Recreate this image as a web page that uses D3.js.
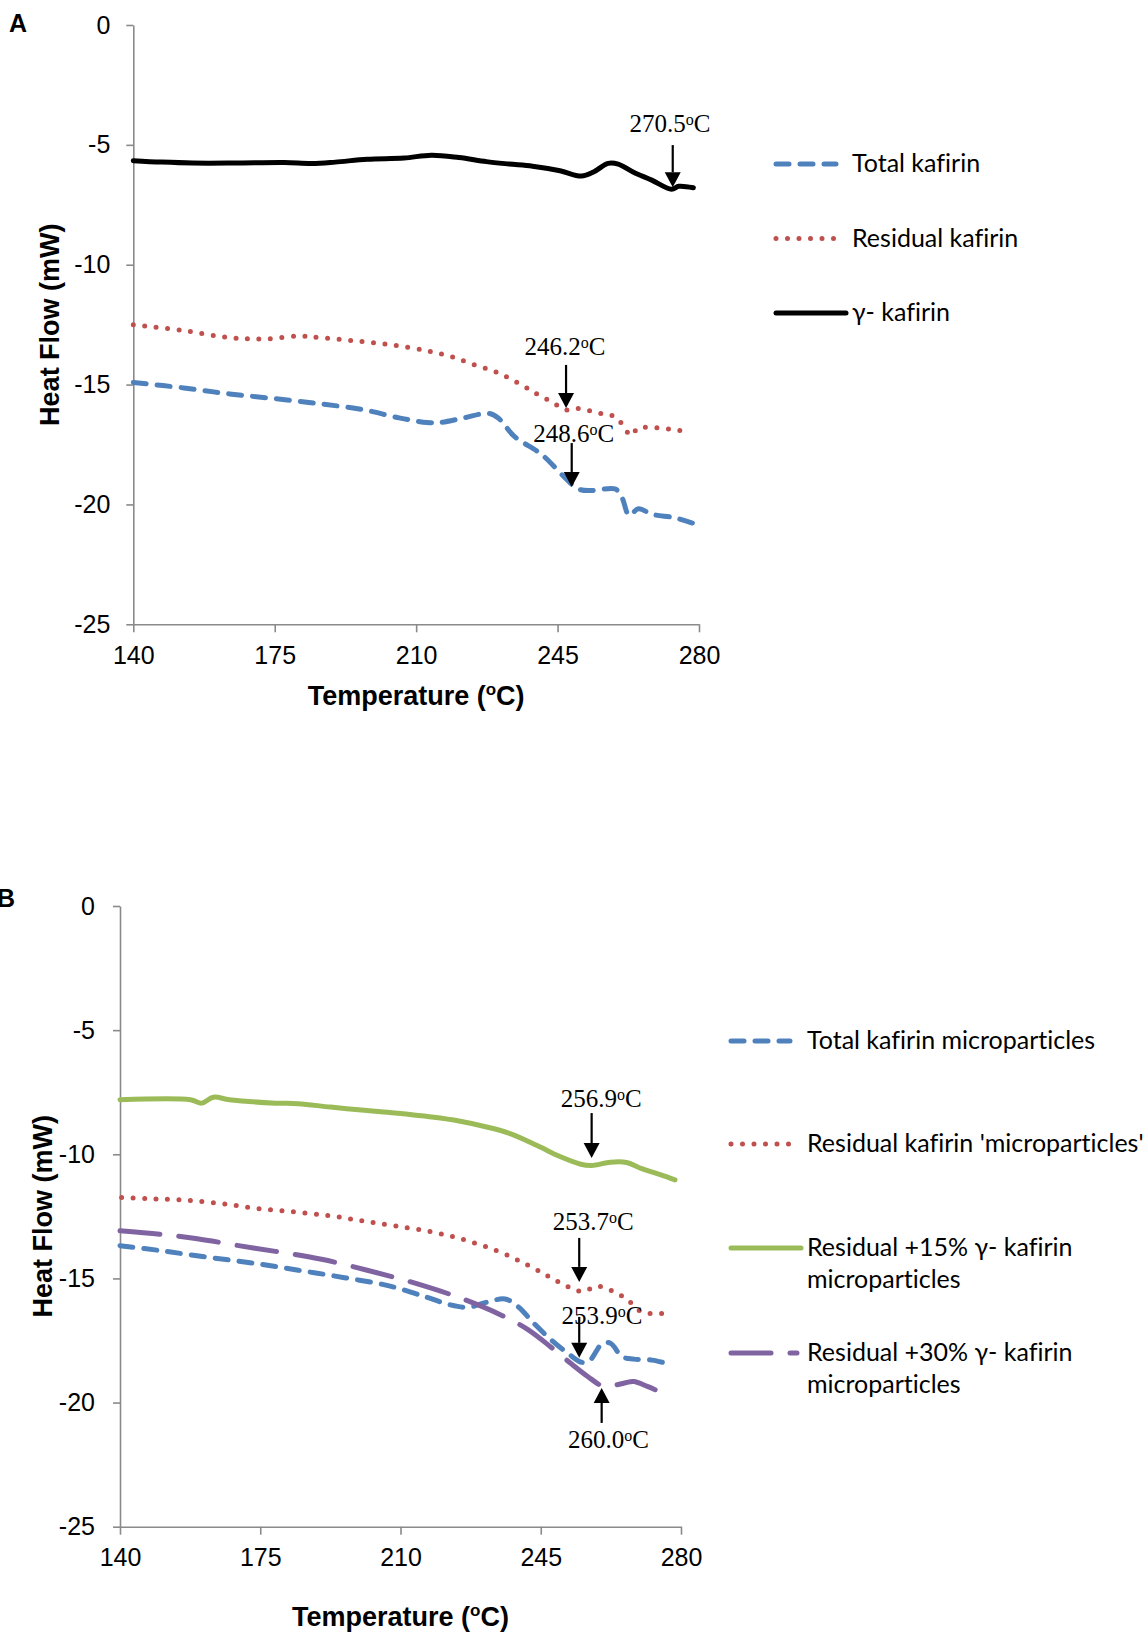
<!DOCTYPE html>
<html><head><meta charset="utf-8">
<script src="https://cdn.jsdelivr.net/npm/d3@7"></script>
<style>body{margin:0;background:#fff} text{font-variant-ligatures:none;}</style>
</head><body><svg id="c" width="1148" height="1635"></svg>
<script>
// ---------- DATA ----------
const xTicks = [140, 175, 210, 245, 280];
const yTicks = [0, -5, -10, -15, -20, -25];

// Panel A  [temperature °C, heat flow mW]
const totalKafirinA = [[140,-14.91],[152.5,-15.14],[163.8,-15.39],[175.2,-15.59],[186.5,-15.81],[196.7,-16.04],[205.8,-16.39],[212.7,-16.58],[216.1,-16.58],[221.8,-16.39],[228,-16.2],[230.3,-16.39],[234.3,-17.16],[241.1,-17.92],[246.8,-18.88],[250.2,-19.36],[253.6,-19.42],[259.3,-19.36],[261,-19.74],[262.7,-20.45],[265,-20.18],[268.4,-20.41],[274.1,-20.56],[278.6,-20.79]];
const residualKafirinA = [[140,-12.50],[152.5,-12.75],[163.8,-13.04],[172.3,-13.10],[180.9,-12.98],[186.5,-13.04],[195.6,-13.19],[204.7,-13.36],[213.2,-13.61],[218.9,-13.84],[224,-14.15],[229.7,-14.47],[235.4,-14.95],[239.9,-15.39],[243.9,-15.76],[247.3,-16.06],[250.2,-16.0],[255.3,-16.2],[258.1,-16.26],[260.4,-16.53],[263.2,-17.12],[264.9,-16.81],[267.8,-16.79],[273.5,-16.87],[276.9,-16.96]];
const gammaKafirinA = [[140,-5.66],[147,-5.72],[154.7,-5.76],[165,-5.76],[177.4,-5.74],[184.2,-5.78],[190,-5.72],[197.9,-5.60],[207,-5.55],[213.8,-5.43],[220.6,-5.53],[227.4,-5.70],[233,-5.80],[238.8,-5.89],[245.6,-6.08],[250.9,-6.30],[254,-6.12],[257.5,-5.77],[260,-5.80],[263.8,-6.14],[268.3,-6.47],[273.2,-6.85],[275,-6.73],[278.6,-6.79]];

// Panel B
const totalMicroB = [[140,-13.68],[150.1,-13.88],[161.6,-14.14],[173,-14.38],[184.5,-14.67],[196,-14.97],[207.4,-15.31],[216.6,-15.76],[222.3,-16.06],[226.9,-16.16],[231.5,-15.96],[236.1,-15.83],[239.5,-16.16],[243,-16.76],[247.5,-17.46],[252.1,-18.06],[255.3,-18.38],[257.3,-18.29],[260.3,-17.63],[262.4,-17.61],[265.3,-18.15],[268.2,-18.25],[272.8,-18.29],[277.9,-18.49]];
const residualMicroB = [[140.4,-11.74],[147.9,-11.79],[155.9,-11.84],[165,-11.98],[174.2,-12.18],[183.4,-12.32],[192.5,-12.48],[200.5,-12.68],[208.6,-12.88],[217.7,-13.12],[225.8,-13.44],[233.8,-13.87],[240.6,-14.37],[246.4,-14.87],[251,-15.27],[255.5,-15.53],[259,-15.31],[262.4,-15.47],[266.4,-15.83],[270.4,-16.36],[276.7,-16.40]];
const residual15B = [[140,-7.80],[157.6,-7.80],[160.4,-7.94],[163.3,-7.70],[167.3,-7.80],[178.8,-7.94],[184.5,-7.96],[192.5,-8.10],[201.7,-8.24],[208.6,-8.34],[217.7,-8.50],[224.6,-8.66],[231.5,-8.90],[237.2,-9.16],[244.1,-9.65],[249.8,-10.09],[255,-10.40],[257.7,-10.45],[262.4,-10.32],[266.4,-10.33],[270.4,-10.59],[275,-10.83],[278.5,-11.03]];
const residual30B = [[140,-13.08],[150.1,-13.22],[159.3,-13.40],[169.6,-13.68],[178.8,-13.91],[190.3,-14.23],[201.7,-14.67],[213.2,-15.17],[224.6,-15.77],[234.9,-16.46],[241.8,-17.06],[247.5,-17.76],[252.7,-18.45],[256.7,-18.95],[260.7,-19.35],[263.5,-19.30],[265.9,-19.21],[268.2,-19.15],[271.6,-19.35],[275.6,-19.63]];

// Legend labels
const legendA = [["Total kafirin"], ["Residual kafirin"], ["γ- kafirin"]];
const legendB = [["Total kafirin microparticles"], ["Residual kafirin 'microparticles'"], ["Residual +15% γ- kafirin", "microparticles"], ["Residual +30% γ- kafirin", "microparticles"]];

// Annotations: label, arrow temperature, tip value, tail value, text temperature, text value
const annotA = [
  {label:"270.5", t:273.5, tip:-6.77, tail:-5.01, tt:272.8, tv:-4.45},
  {label:"246.2", t:247.1, tip:-15.98, tail:-14.18, tt:246.8, tv:-13.77},
  {label:"248.6", t:248.5, tip:-19.27, tail:-17.44, tt:249.0, tv:-17.40}
];
const annotB = [
  {label:"256.9", t:257.7, tip:-10.15, tail:-8.34, tt:260.1, tv:-8.09},
  {label:"253.7", t:254.6, tip:-15.14, tail:-13.37, tt:258.1, tv:-13.05},
  {label:"253.9", t:254.6, tip:-18.20, tail:-16.55, tt:260.3, tv:-16.85},
  {label:"260.0", t:260.2, tip:-19.41, tail:-20.82, tt:261.9, tv:-21.83}
];

// ---------- STYLES ----------
const styles = {
  blue:   {color:"#4F81BD", dash:"13 11", w:5},
  red:    {color:"#C0504D", dash:"0 11.5", w:5},
  black:  {color:"#000000", dash:null, w:5},
  green:  {color:"#9BBB59", dash:null, w:5},
  purple: {color:"#8064A2", dash:"40 19", w:5}
};

const svg = d3.select("#c");
const axisColor = "#8a8a8a";
const tickFont = "Liberation Sans, Arial, sans-serif";

function drawPanel(p) {
  const x = d3.scaleLinear().domain([140, 280]).range([p.left, p.right]);
  const y = d3.scaleLinear().domain([-25, 0]).range([p.bottom, p.top]);
  const g = svg.append("g");

  const ya = g.append("g").attr("transform", `translate(${p.left},0)`)
    .call(d3.axisLeft(y).tickValues(yTicks).tickFormat(d => String(d)).tickSizeInner(7).tickSizeOuter(0).tickPadding(p.yPad));
  const xa = g.append("g").attr("transform", `translate(0,${p.bottom})`)
    .call(d3.axisBottom(x).tickValues(xTicks).tickFormat(d => String(d)).tickSizeInner(8).tickSizeOuter(0).tickPadding(14));
  [ya, xa].forEach(a => {
    a.select(".domain").attr("stroke", axisColor).attr("stroke-width", 1.6);
    a.selectAll(".tick line").attr("stroke", axisColor).attr("stroke-width", 1.6);
    a.selectAll(".tick text").attr("fill", "#000").style("font-family", tickFont).style("font-size", "25px");
  });

  const line = d3.line().x(d => x(d[0])).y(d => y(d[1])).curve(d3.curveCatmullRom.alpha(0.5));
  p.series.forEach(s => {
    const st = styles[s.style];
    g.append("path").datum(s.data).attr("d", line)
      .attr("fill", "none").attr("stroke", st.color).attr("stroke-width", st.w)
      .attr("stroke-linecap", "round").attr("stroke-linejoin", "round")
      .attr("stroke-dasharray", st.dash);
  });

  // annotations
  p.annots.forEach(a => {
    const ax = x(a.t), yTip = y(a.tip), yTail = y(a.tail);
    const dir = yTip > yTail ? 1 : -1;
    const head = 15;
    g.append("line").attr("x1", ax).attr("x2", ax).attr("y1", yTail).attr("y2", yTip - dir*head)
      .attr("stroke", "#000").attr("stroke-width", 2.2);
    g.append("path").attr("d", `M${ax},${yTip} L${ax-8},${yTip - dir*head} L${ax+8},${yTip - dir*head} Z`).attr("fill", "#000");
    const t = g.append("text").attr("x", x(a.tt)).attr("y", y(a.tv)).attr("text-anchor", "middle")
      .style("font-family", "Liberation Serif, 'Times New Roman', serif").style("font-size", "25px").attr("fill", "#000");
    t.append("tspan").text(a.label);
    t.append("tspan").attr("font-size", "16px").attr("dy", -7).text("o");
    t.append("tspan").attr("dy", 7).text("C");
  });

  // axis titles
  const xt = g.append("text").attr("x", (p.left + p.right)/2).attr("y", p.xTitleY).attr("text-anchor", "middle")
    .style("font-family", tickFont).style("font-weight", "bold").style("font-size", "27px");
  xt.append("tspan").text("Temperature (");
  xt.append("tspan").attr("font-size", "17px").attr("dy", -10).text("o");
  xt.append("tspan").attr("dy", 10).text("C)");
  g.append("text").attr("transform", `translate(${p.yTitleX},${(p.top + p.bottom)/2}) rotate(-90)`)
    .attr("text-anchor", "middle").style("font-family", tickFont).style("font-weight", "bold").style("font-size", "27px")
    .text("Heat Flow (mW)");

  // panel letter
  g.append("text").attr("x", p.letterX).attr("y", p.letterY).style("font-family", tickFont)
    .style("font-weight", "bold").style("font-size", "25px").text(p.letter);

  // legend
  p.legend.forEach((lab, i) => {
    const st = styles[p.series[i].style];
    const ly = p.legYs[i];
    g.append("line").attr("x1", p.legX1).attr("x2", p.legX2[i]).attr("y1", ly).attr("y2", ly)
      .attr("stroke", st.color).attr("stroke-width", st.w).attr("stroke-linecap", "round")
      .attr("stroke-dasharray", st.dash);
    lab.forEach((txt, j) => {
      g.append("text").attr("x", p.legTX).attr("y", ly + 8 + j*32)
        .style("font-family", "Lato, 'Open Sans', sans-serif").style("font-size", "25px").attr("fill", "#000").text(txt);
    });
  });
}

drawPanel({
  left:133.3, right:699, top:25, bottom:624.3, yPad:16, xTitleY:705, yTitleX:59,
  letter:"A", letterX:9, letterY:32,
  series:[{data:totalKafirinA, style:"blue"},{data:residualKafirinA, style:"red"},{data:gammaKafirinA, style:"black"}],
  annots:annotA, legend:legendA,
  legYs:[164, 238.5, 313], legX1:776, legX2:[836, 838, 846], legTX:852
});
drawPanel({
  left:120, right:681, top:906, bottom:1526.7, yPad:18, xTitleY:1626, yTitleX:52,
  letter:"B", letterX:-3, letterY:907,
  series:[{data:totalMicroB, style:"blue"},{data:residualMicroB, style:"red"},{data:residual15B, style:"green"},{data:residual30B, style:"purple"}],
  annots:annotB, legend:legendB,
  legYs:[1041, 1144, 1248, 1353], legX1:731, legX2:[790, 792, 801, 797], legTX:807
});
</script></body></html>
